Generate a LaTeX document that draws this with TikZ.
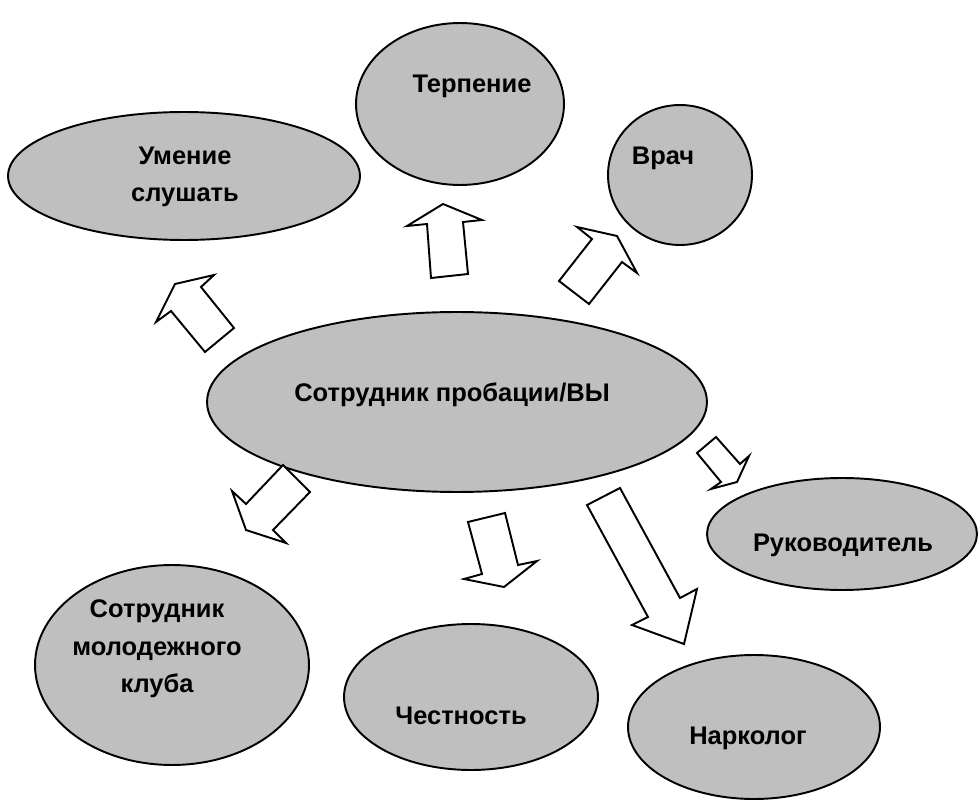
\documentclass[tikz,border=0pt]{standalone}
\usepackage{fontspec}
\setmainfont{Liberation Sans}
\usetikzlibrary{shapes.geometric}
\tikzset{
  bubble/.style={ellipse,draw,fill=gray!50,line width=1.1pt,inner sep=0pt},
  lbl/.style={font=\fontsize{14.5}{21.3}\selectfont\bfseries,align=center,inner sep=0pt},
  hollowarrow/.style={draw,fill=white,line width=1.1pt,line join=miter}
}
\begin{document}
\begin{tikzpicture}[x=0.02cm,y=-0.02cm]
\useasboundingbox (0,0) rectangle (980,803);
% ellipses
\node[bubble,minimum width=7.04cm,minimum height=2.56cm] (listen) at (184,176) {};
\node[bubble,minimum width=4.16cm,minimum height=3.24cm] (patience) at (460,104) {};
\node[bubble,minimum width=2.88cm,minimum height=2.8cm] (doctor) at (680,175) {};
\node[bubble,minimum width=10cm,minimum height=3.6cm] (officer) at (457,402) {};
\node[bubble,minimum width=5.4cm,minimum height=2.24cm] (head) at (842,534) {};
\node[bubble,minimum width=5.48cm,minimum height=4cm] (club) at (172,665) {};
\node[bubble,minimum width=5.08cm,minimum height=2.92cm] (honesty) at (471,697) {};
\node[bubble,minimum width=5.04cm,minimum height=2.88cm] (narco) at (754,727) {};
% texts
\node[lbl] (listentxt) at (185,177) {Умение\\слушать};
\node[lbl] (patiencetxt) at (472,86) {Терпение};
\node[lbl] (doctortxt) at (663,158) {Врач};
\node[lbl] (officertxt) at (452,395) {Сотрудник пробации/ВЫ};
\node[lbl] (headtxt) at (843,545) {Руководитель};
\node[lbl] (clubtxt) at (157,649) {Сотрудник\\молодежного\\клуба};
\node[lbl] (honestytxt) at (461,716) {Честность};
\node[lbl] (narcotxt) at (748,738) {Нарколог};
% block arrows
\draw[hollowarrow] (234,328) -- (201,287) -- (214,275) -- (175,284) -- (156,322) -- (171,311) -- (205,352) -- cycle;
\draw[hollowarrow] (468,274) -- (463,222) -- (482,220) -- (443,204) -- (407,226) -- (427,224) -- (431,278) -- cycle;
\draw[hollowarrow] (589,304) -- (622,262) -- (637,273) -- (617,236) -- (577,227) -- (592,239) -- (559,281) -- cycle;
\draw[hollowarrow] (283,465) -- (310,492) -- (273,530) -- (286,543) -- (246,530) -- (232,491) -- (246,504) -- cycle;
\draw[hollowarrow] (468,522) -- (505,513) -- (518,565) -- (537,561) -- (504,587) -- (464,579) -- (482,574) -- cycle;
\draw[hollowarrow] (587,505) -- (620,488) -- (680,598) -- (697,589) -- (684,644) -- (632,625) -- (648,617) -- cycle;
\draw[hollowarrow] (697,453) -- (716,437) -- (740,464) -- (749,456) -- (737,482) -- (711,489) -- (721,482) -- cycle;
\end{tikzpicture}
\end{document}
